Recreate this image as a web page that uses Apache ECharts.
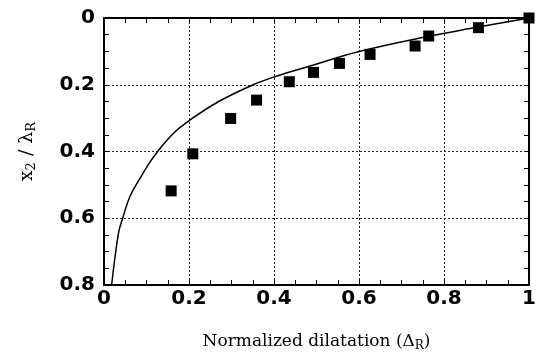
<!DOCTYPE html>
<html>
<head>
<meta charset="utf-8">
<script src="https://cdn.jsdelivr.net/npm/echarts@6/dist/echarts.min.js"></script>
<style>
  html, body { margin: 0; padding: 0; background: #fff; }
  #chart { width: 539px; height: 354px; }
</style>
</head>
<body>
<div id="chart"></div>
<script>
// measured points (normalized dilatation, x2 / lambda_R)
const pointX = [0.158, 0.209, 0.298, 0.359, 0.436, 0.493, 0.554, 0.626, 0.732, 0.764, 0.881, 1.0];
const pointY = [0.518, 0.407, 0.301, 0.246, 0.191, 0.163, 0.136, 0.109, 0.084, 0.054, 0.029, 0.0];

// model curve
const curveX = [0.018, 0.034, 0.044, 0.061, 0.085, 0.108, 0.125, 0.163, 0.202, 0.269, 0.351, 0.402, 0.493, 0.598, 0.767, 0.877, 1.0];
const curveY = [0.80, 0.645, 0.60, 0.535, 0.48, 0.432, 0.402, 0.346, 0.306, 0.251, 0.20, 0.176, 0.141, 0.101, 0.054, 0.028, 0.0];

const xTicks = ['0', '0.2', '0.4', '0.6', '0.8', '1'];
const yTicks = ['0', '0.2', '0.4', '0.6', '0.8'];

const chart = echarts.init(document.getElementById('chart'));

const tickFont = {
  color: '#000',
  fontFamily: 'DejaVu Sans',
  fontWeight: 'bold',
  fontSize: 20
};
const gridLine = {
  show: true,
  lineStyle: { color: '#222', type: [2, 2], width: 1 }
};
const frameLine = { show: true, onZero: false, lineStyle: { color: '#000', width: 2 } };
const ticksIn = { show: true, inside: true, length: 5, lineStyle: { color: '#000', width: 1 } };
const minorIn = { show: true, splitNumber: 4, length: 5, lineStyle: { color: '#000', width: 1 } };

const option = {
  animation: false,
  backgroundColor: '#fff',
  grid: { left: 104, right: 10, top: 18, bottom: 69, outerBoundsMode: 'none' },
  xAxis: [
    {
      type: 'value',
      min: 0,
      max: 1,
      interval: 0.2,
      position: 'bottom',
      axisLine: frameLine,
      axisTick: ticksIn,
      minorTick: minorIn,
      splitLine: gridLine,
      axisLabel: Object.assign({ margin: 4, formatter: (v) => xTicks[Math.round(v / 0.2)] }, tickFont),
      name: '{t|Normalized dilatation (Δ}{s|R}{t|)}',
      nameLocation: 'middle',
      nameGap: 47,
      nameTextStyle: {
        rich: {
          t: { fontFamily: 'DejaVu Serif', fontSize: 17, color: '#000' },
          s: { fontFamily: 'DejaVu Serif', fontSize: 12, color: '#000', padding: [8, 0, 0, 0] }
        }
      }
    },
    {
      type: 'value',
      min: 0,
      max: 1,
      interval: 0.2,
      position: 'top',
      axisLine: frameLine,
      axisTick: ticksIn,
      minorTick: minorIn,
      splitLine: { show: false },
      axisLabel: { show: false }
    }
  ],
  yAxis: [
    {
      type: 'value',
      inverse: true,
      min: 0,
      max: 0.8,
      interval: 0.2,
      position: 'left',
      axisLine: frameLine,
      axisTick: ticksIn,
      minorTick: minorIn,
      splitLine: gridLine,
      axisLabel: Object.assign({ margin: 9, formatter: (v) => yTicks[Math.round(v / 0.2)] }, tickFont),
      name: '{t|x}{s|2}{t| / λ}{s|R}',
      nameLocation: 'middle',
      nameGap: 66,
      nameTextStyle: {
        rich: {
          t: { fontFamily: 'DejaVu Serif', fontSize: 19, color: '#000' },
          s: { fontFamily: 'DejaVu Serif', fontSize: 13, color: '#000', padding: [8, 0, 0, 0] }
        }
      }
    },
    {
      type: 'value',
      inverse: true,
      min: 0,
      max: 0.8,
      interval: 0.2,
      position: 'right',
      axisLine: frameLine,
      axisTick: ticksIn,
      minorTick: minorIn,
      splitLine: { show: false },
      axisLabel: { show: false }
    }
  ],
  series: [
    {
      type: 'line',
      data: curveX.map((x, i) => [x, curveY[i]]),
      smooth: 0.4,
      showSymbol: false,
      lineStyle: { color: '#000', width: 1.5 },
      z: 3
    },
    {
      type: 'scatter',
      data: pointX.map((x, i) => [x, pointY[i]]),
      symbol: 'rect',
      symbolSize: 11,
      itemStyle: { color: '#000', opacity: 1 },
      z: 4
    }
  ]
};

chart.setOption(option);
</script>
</body>
</html>
